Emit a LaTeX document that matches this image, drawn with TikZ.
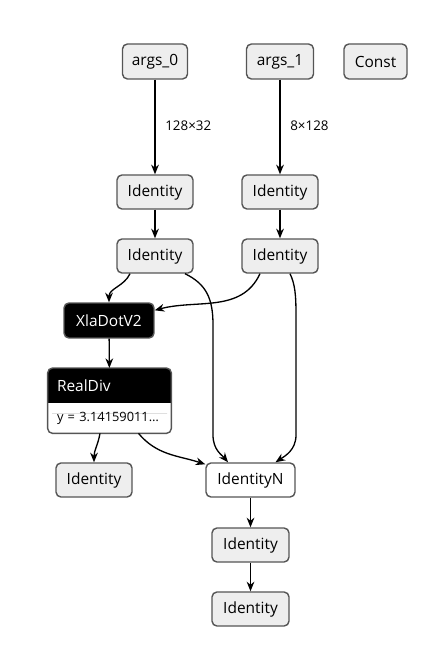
\documentclass[tikz,border=0pt]{standalone}
\usepackage{fontspec}
\setmainfont{Open Sans}
\usetikzlibrary{arrows.meta,backgrounds}
\definecolor{nodefill}{HTML}{EEEEEE}
\definecolor{nodeline}{HTML}{555555}
\begin{document}
\begin{tikzpicture}[
  x=0.02cm,y=-0.02cm,
  >={Stealth[length=5.5pt,width=4.4pt]},
  every node/.style={font=\fontsize{8.8}{10}\selectfont},
  op/.style={rectangle,draw=nodeline,fill=nodefill,line width=0.8pt,rounded corners=2.8pt,minimum height=0.68cm,inner sep=0pt},
  outop/.style={op,fill=white},
  darkop/.style={op,fill=black,text=white},
  dimlabel/.style={font=\fontsize{7.6}{9}\selectfont,anchor=west,inner sep=0pt},
  edge/.style={->,line width=0.75pt}
]
\useasboundingbox (0,0) rectangle (446,661);
% inputs
\node[op,minimum width=1.3cm,minimum height=0.7cm] (a0) at (155,61.5) {args\_0};
\node[op,minimum width=1.34cm,minimum height=0.7cm] (a1) at (280,61.5) {args\_1};
\node[op,minimum width=1.26cm,minimum height=0.7cm] (const) at (375.5,61.5) {Const};
\node[op,minimum width=1.52cm] (id1) at (155,192) {Identity};
\node[op,minimum width=1.52cm] (id2) at (280,192) {Identity};
\node[op,minimum width=1.52cm] (id3) at (155,256) {Identity};
\node[op,minimum width=1.52cm] (id4) at (280,256) {Identity};
\node[darkop,minimum width=1.8cm,minimum height=0.7cm] (xla) at (109,320.5) {XlaDotV2};
% RealDiv with attribute
\node[inner xsep=0.18cm,inner ysep=0pt,text width=2.1cm,align=left,minimum height=0.68cm,text=white,anchor=north] (div) at (109.5,368) {RealDiv};
\node[inner xsep=0.18cm,inner ysep=0pt,text width=2.1cm,align=left,minimum height=0.6cm,anchor=north,font=\fontsize{7.3}{9}\selectfont] (divattr) at (div.south) {\mbox{y = 3.14159011…}};
\begin{scope}[on background layer]
\fill[white,rounded corners=2.8pt] (div.north west) rectangle (divattr.south east);
\fill[black,rounded corners=2.8pt] (div.north west) rectangle ([yshift=-6pt]div.south east);
\fill[white] (div.south west) rectangle ([yshift=-6pt]div.south east);
\draw[nodeline,line width=0.8pt,rounded corners=2.8pt] (div.north west) rectangle (divattr.south east);
\end{scope}
% outputs
\node[op,minimum width=1.52cm] (idl) at (94,480) {Identity};
\node[outop,minimum width=1.78cm] (idn) at (250.5,480) {IdentityN};
\node[op,minimum width=1.54cm] (id5) at (250.5,545) {Identity};
\node[op,minimum width=1.54cm] (id6) at (250.5,609) {Identity};
% edges
\draw[edge] (a0) -- (id1);
\node[dimlabel] (s0) at (165,126) {128×32};
\draw[edge] (a1) -- (id2);
\node[dimlabel] (s1) at (290,126) {8×128};
\draw[edge] (id1) -- (id3);
\draw[edge] (id2) -- (id4);
\draw[edge] ([xshift=-0.5cm]id3.south) to[out=-115,in=90] (xla.north);
\draw[edge] ([xshift=-0.4cm]id4.south) to[out=-115,in=15] ([yshift=-0.16cm]xla.north east);
\draw[edge] ([xshift=0.6cm]id3.south) .. controls (206,284) and (213,298) .. (213,325) -- (213,435) .. controls (213,450) and (222,455) .. ([xshift=-0.45cm]idn.north);
\draw[edge] ([xshift=0.2cm]id4.south) .. controls (295,284) and (296,295) .. (296,315) -- (296,435) .. controls (296,450) and (285,456) .. ([xshift=0.5cm]idn.north);
\draw[edge] (xla) -- (div);
\draw[edge] ([xshift=-0.19cm]divattr.south) to[out=-100,in=90] (idl.north);
\draw[edge] ([xshift=0.58cm]divattr.south) to[out=-50,in=162] ([yshift=-0.04cm]idn.north west);
\draw[edge] (idn) -- (id5);
\draw[edge] (id5) -- (id6);
\end{tikzpicture}
\end{document}
